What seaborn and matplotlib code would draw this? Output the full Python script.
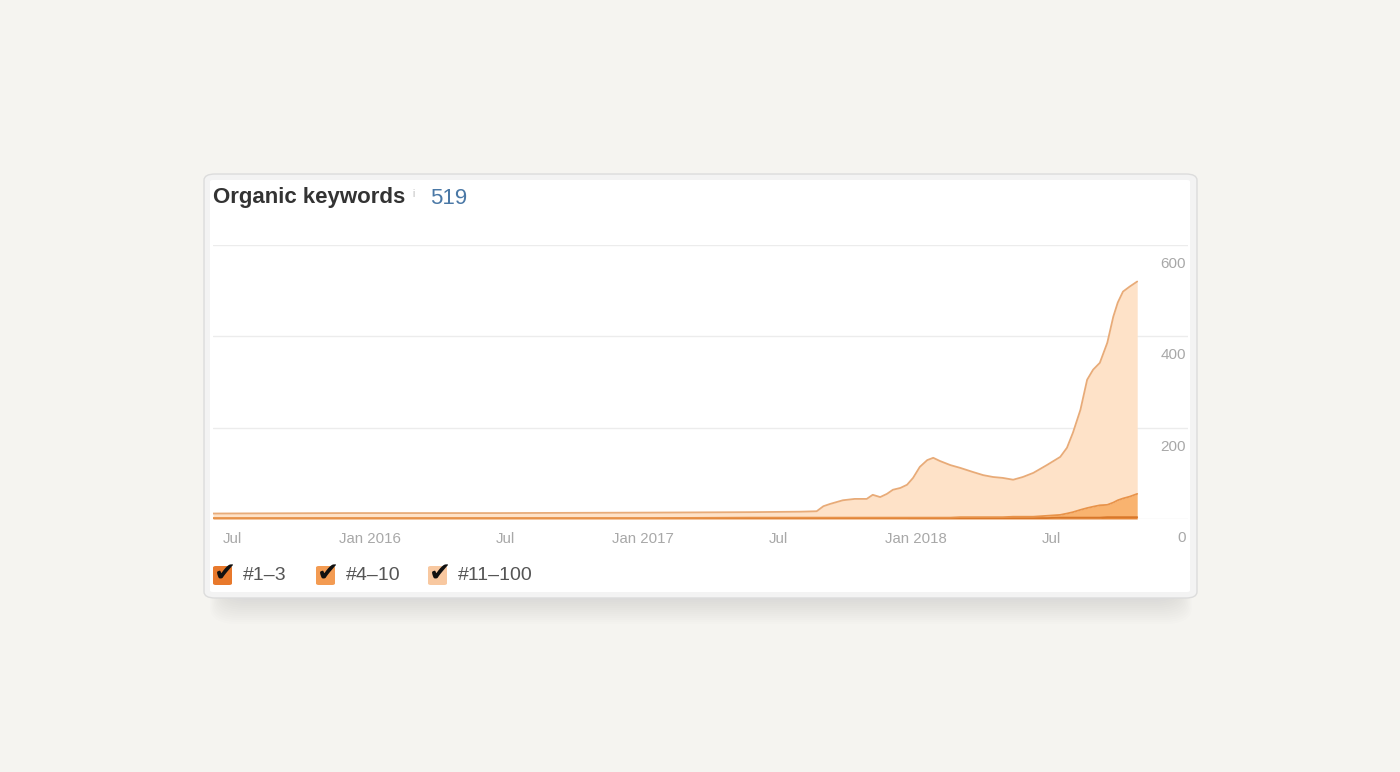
import matplotlib
matplotlib.use("Agg")
import matplotlib.pyplot as plt
from matplotlib.patches import FancyBboxPatch
import numpy as np
import pandas as pd
import seaborn as sns

# ---------------- data ----------------
dates = [
    "2015-06-05", "2015-12-05", "2016-06-23", "2017-01-10", "2017-05-24",
    "2017-07-30", "2017-08-21", "2017-08-30", "2017-09-08", "2017-09-25",
    "2017-10-11", "2017-10-27", "2017-11-04", "2017-11-14", "2017-11-23",
    "2017-12-01", "2017-12-11", "2017-12-20", "2017-12-28", "2018-01-06",
    "2018-01-16", "2018-01-24", "2018-02-02", "2018-02-16", "2018-03-01",
    "2018-03-18", "2018-04-01", "2018-04-14", "2018-04-27", "2018-05-11",
    "2018-05-24", "2018-06-07", "2018-06-25", "2018-07-13", "2018-07-22",
    "2018-07-30", "2018-08-09", "2018-08-18", "2018-08-26", "2018-09-04",
    "2018-09-14", "2018-09-22", "2018-09-28", "2018-10-05", "2018-10-14",
    "2018-10-24",
]
pos_1_3 = [1, 1, 1, 1, 1, 1, 1, 1, 1, 1,
           1, 1, 1, 1, 1, 1, 1, 1, 2, 2,
           2, 2, 2, 2, 2, 2, 2, 2, 2, 2,
           2, 2, 2, 3, 3, 3, 3, 3, 3, 3,
           4, 4, 4, 4, 4, 4]
pos_4_10 = [1, 1, 1, 1, 2, 2, 2, 2, 2, 2,
            2, 2, 2, 2, 2, 2, 2, 2, 1, 1,
            1, 1, 1, 1, 2, 2, 2, 2, 2, 3,
            3, 3, 5, 6, 9, 12, 17, 21, 24, 27,
            27, 32, 37, 41, 45, 51]
pos_11_100 = [10, 11, 11, 12, 12, 13, 14, 25, 30, 38,
              41, 41, 50, 45, 52, 61, 65, 72, 87, 111,
              126, 131, 124, 115, 108, 99, 92, 88, 86, 81,
              87, 96, 111, 127, 144, 174, 219, 281, 300, 312,
              355, 407, 433, 453, 460, 465]
series_names = ["#1\u20133", "#4\u201310", "#11\u2013100"]
y_ticks = [0, 200, 400, 600]
x_tick_dates = ["2015-07-01", "2016-01-01", "2016-07-01", "2017-01-01",
                "2017-07-01", "2018-01-01", "2018-07-01"]
x_tick_labels = ["Jul", "Jan 2016", "Jul", "Jan 2017", "Jul", "Jan 2018", "Jul"]
headline_value = "519"

# ---------------- style ----------------
sns.set_theme(style="white")
plt.rcParams["font.family"] = ["Liberation Sans", "DejaVu Sans"]

fill_colors = ["#e5883a", "#f9b36f", "#fee2c8"]
line_colors = ["#d8772a", "#e8934a", "#e8ab78"]
box_colors = ["#e8792c", "#f39b52", "#f8c8a0"]

W, H = 1400, 772
fig = plt.figure(figsize=(W / 100, H / 100), dpi=100, facecolor="#f5f4f0")


def fx(x):
    return x / W


def fy(y):
    return 1 - y / H


# soft shadow below the card
for i in range(14):
    grow = i * 2
    x0 = 226 - grow * 0.6
    x1 = 1176 + grow * 0.6
    y_top = 300
    y_bot = 598 + grow
    sh = FancyBboxPatch((fx(x0), fy(y_bot)), fx(x1 - x0), (y_bot - y_top) / H,
                        boxstyle="round,pad=0,rounding_size=0.02",
                        transform=fig.transFigure, facecolor="#6a7288",
                        edgecolor="none", alpha=0.011, zorder=0)
    fig.patches.append(sh)

# card
outer = FancyBboxPatch((fx(204), fy(598)), fx(993), 424 / H,
                       boxstyle="round,pad=0,rounding_size=0.008",
                       transform=fig.transFigure, facecolor="#f3f3f3",
                       edgecolor="#dcdcdc", linewidth=1, zorder=1)
fig.patches.append(outer)
inner = FancyBboxPatch((fx(210), fy(592)), fx(980), 412 / H,
                       boxstyle="round,pad=0,rounding_size=0.002",
                       transform=fig.transFigure, facecolor="#ffffff",
                       edgecolor="none", zorder=2)
fig.patches.append(inner)

# ---------------- axes ----------------
ax = fig.add_axes([fx(213), fy(519), (1188 - 213) / W, (519 - 245) / H])
ax.set_facecolor("none")
ax.set_zorder(3)

d = pd.to_datetime(dates)
ax.stackplot(d, pos_1_3, pos_4_10, pos_11_100, colors=fill_colors,
             linewidth=0, zorder=2)

cum = np.cumsum(np.array([pos_1_3, pos_4_10, pos_11_100]), axis=0)
for k in range(3):
    df = pd.DataFrame({"date": d, "value": cum[k]})
    sns.lineplot(data=df, x="date", y="value", ax=ax, color=line_colors[k],
                 linewidth=1.3, zorder=3)

ax.set_xlim(pd.Timestamp("2015-06-05"), pd.Timestamp("2018-12-31"))
ax.set_ylim(0, 600)
for s in ax.spines.values():
    s.set_visible(False)
ax.set_xlabel("")
ax.set_ylabel("")

ax.set_yticks(y_ticks)
ax.set_yticklabels([])
ax.tick_params(axis="y", length=0)
ax.grid(axis="y", color="#ececec", linewidth=1)
ax.grid(axis="x", visible=False)
ax.set_axisbelow(True)

for v in y_ticks:
    ax.annotate(str(v), xy=(1, v), xycoords=("axes fraction", "data"),
                xytext=(-1.5, -13.7), textcoords="offset points",
                ha="right", va="center", fontsize=11, color="#a8a8a8")

ax.set_xticks(pd.to_datetime(x_tick_dates))
ax.set_xticklabels(x_tick_labels)
ax.tick_params(axis="x", length=0, pad=9.2, labelsize=10.8, labelcolor="#a8a8a8")

# ---------------- title ----------------
fig.text(fx(213), fy(198), "Organic keywords", fontsize=16, fontweight="bold",
         color="#333333", ha="left", va="center", zorder=5)
fig.text(fx(412), fy(194), "i", fontsize=7, color="#bbbbbb",
         ha="left", va="center", zorder=5)
fig.text(fx(430), fy(198), headline_value, fontsize=16, color="#4a78a6",
         ha="left", va="center", zorder=5)

# ---------------- legend ----------------
legend_x = [213, 316, 428]
for k in range(3):
    bx = legend_x[k]
    box = FancyBboxPatch((fx(bx), fy(585)), 19 / W, 19 / H,
                         boxstyle="round,pad=0,rounding_size=0.002",
                         transform=fig.transFigure, facecolor=box_colors[k],
                         edgecolor="none", zorder=5)
    fig.patches.append(box)
    fig.text(fx(bx + 12), fy(575), "\u2714", fontsize=19, color="#111111",
             ha="center", va="center", family="DejaVu Sans", zorder=6)
    fig.text(fx(bx + 30), fy(576), series_names[k], fontsize=14,
             color="#555555", ha="left", va="center", zorder=6)

fig.savefig("out.png", dpi=100, facecolor=fig.get_facecolor())
